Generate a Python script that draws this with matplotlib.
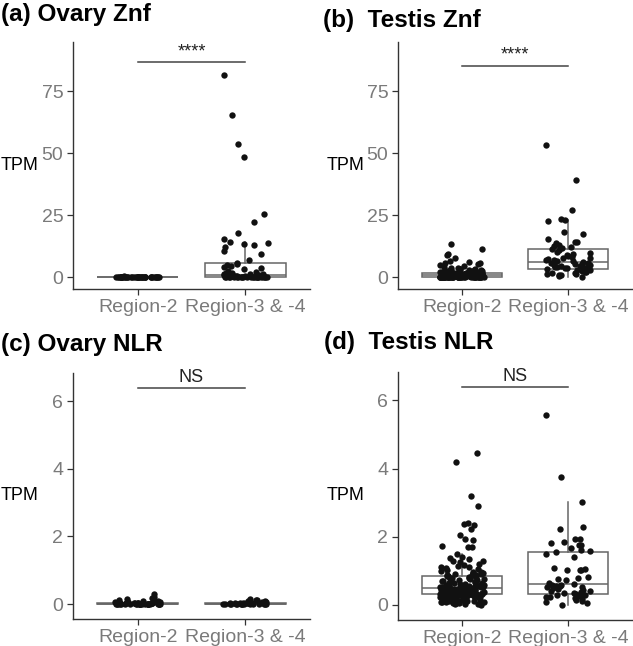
"""
Znf / NLR expression (TPM) in Region-2 vs Region-3 & -4, ovary and testis.
Boxplots with jittered points, 2x2 panel layout.
"""

import numpy as np
import matplotlib.pyplot as plt

plt.rcParams["font.family"] = ["Liberation Sans", "DejaVu Sans"]

# ----------------------------------------------------------------------
# Data (TPM values)
# ----------------------------------------------------------------------

GROUPS = ["Region-2", "Region-3 & -4"]

ovary_znf_r2 = [0.0, 0.0, 0.01, 0.02, 0.0, 0.05, 0.03, 0.0, 0.1, 0.02,
                0.0, 0.04, 0.08, 0.0, 0.01, 0.15, 0.0, 0.03, 0.06, 0.0,
                0.02, 0.12, 0.0, 0.05, 0.01, 0.0, 0.2, 0.03, 0.0, 0.07,
                0.0, 0.02, 0.09, 0.0, 0.04, 0.01, 0.0, 0.25, 0.03, 0.0]
ovary_znf_r34 = [81.3, 65.2, 53.8, 48.5, 25.5, 22.3, 17.6, 15.4, 14.0, 13.6,
                 13.2, 12.8, 12.3, 10.7, 9.2, 7.0, 5.5,
                 5.2, 4.8, 4.5, 4.2, 3.8, 3.2,
                 2.6, 2.1, 1.8, 1.5, 1.3, 1.2, 1.1, 1.0,
                 0.9, 0.8, 0.7, 0.6, 0.5, 0.45, 0.4, 0.35, 0.3, 0.25,
                 0.2, 0.18, 0.15, 0.12, 0.1, 0.08, 0.05,
                 0.04, 0.03, 0.03, 0.02, 0.02, 0.01, 0.01, 0.0,
                 0.0, 0.0, 0.0, 0.0, 0.0, 0.0, 0.0, 0.0]

testis_znf_r2 = [13.2, 11.2, 9.3, 9.1, 7.9, 6.6, 6.2, 5.8, 5.5, 5.1,
                 4.7, 4.4, 4.0, 3.8, 3.5, 3.3, 3.1, 2.9, 2.7, 2.6,
                 2.4, 2.3, 2.2, 2.05, 1.95, 1.9, 1.8, 1.72, 1.66, 1.61,
                 3.4, 3.0, 2.8, 2.5, 2.25, 2.1, 2.0, 1.85, 1.75, 1.62,
                 1.57, 1.53, 1.48, 1.44, 1.41, 1.36, 1.33, 1.29, 1.24, 1.21,
                 1.18, 1.13, 1.1, 1.06, 1.03, 0.99, 0.97, 0.94, 0.91, 0.88,
                 0.86, 0.83, 0.81, 0.79, 0.77, 0.76, 0.74, 0.72, 0.71, 0.7,
                 1.55, 1.45, 1.38, 1.27, 1.15, 1.04, 0.95, 0.87, 0.8, 0.73,
                 0.68, 0.66, 0.63, 0.61, 0.58, 0.56, 0.55, 0.52, 0.5, 0.48,
                 0.46, 0.44, 0.43, 0.41, 0.39, 0.37, 0.36, 0.34, 0.32, 0.31,
                 0.3, 0.28, 0.27, 0.26, 0.25, 0.24, 0.23, 0.22, 0.21, 0.2,
                 0.65, 0.6, 0.54, 0.47, 0.42, 0.38, 0.33, 0.29, 0.26, 0.22,
                 0.19, 0.18, 0.17, 0.16, 0.15, 0.14, 0.13, 0.12, 0.11, 0.1,
                 0.09, 0.08, 0.07, 0.06, 0.05, 0.05, 0.04, 0.04, 0.03, 0.03,
                 0.02, 0.02, 0.01, 0.01, 0.01, 0.0, 0.0, 0.0, 0.0, 0.0,
                 0.18, 0.15, 0.12, 0.1, 0.08, 0.06, 0.04, 0.02, 0.01, 0.0]
testis_znf_r34 = [53.2, 39.2, 27.0, 23.6, 23.2, 22.6, 18.0, 17.3, 15.2, 14.3,
                  14.1, 13.8, 12.9, 12.4, 12.2, 11.8,
                  11.2, 10.8, 10.3, 9.8, 9.5, 9.0, 8.6, 8.2, 7.9, 7.6,
                  7.3, 7.0, 6.8, 6.6, 6.4, 6.3,
                  6.0, 5.8, 5.6, 5.4, 5.2, 5.0, 4.8, 4.6, 4.4, 4.2,
                  4.0, 3.9, 3.8, 3.7, 3.6, 3.5,
                  3.3, 3.1, 2.9, 2.7, 2.5, 2.3, 2.1, 1.9, 1.7, 1.5,
                  1.3, 1.1, 0.9, 0.7, 0.5, 0.0]

ovary_nlr_r2 = [0.3, 0.22, 0.18, 0.15, 0.12, 0.1, 0.08, 0.07, 0.06, 0.05,
                0.05, 0.04, 0.04, 0.03, 0.03, 0.03, 0.02, 0.02, 0.02, 0.02,
                0.02, 0.01, 0.01, 0.01, 0.01, 0.01, 0.01, 0.01, 0.0, 0.0,
                0.0, 0.0, 0.0, 0.0, 0.0, 0.0, 0.0, 0.0, 0.0, 0.0,
                0.0, 0.0, 0.0, 0.0, 0.0]
ovary_nlr_r34 = [0.15, 0.13, 0.12, 0.1, 0.08, 0.06, 0.05, 0.04, 0.03, 0.03,
                 0.02, 0.02, 0.02, 0.02, 0.01, 0.01, 0.01, 0.01, 0.01, 0.01,
                 0.0, 0.0, 0.0, 0.0, 0.0, 0.0, 0.0, 0.0, 0.0, 0.0]

testis_nlr_r2 = [4.45, 4.2, 3.2, 2.9, 2.4, 2.38, 2.35, 2.22, 2.05, 1.92,
                 1.9, 1.72, 1.7, 1.69, 1.5, 1.42, 1.38, 1.35, 1.3, 1.28,
                 1.25, 1.2, 1.18, 1.15, 1.12, 1.1, 1.08, 1.05, 1.02, 1.0,
                 0.98, 0.96, 0.95, 0.93, 0.92, 0.91, 0.9, 0.89, 0.88, 0.87,
                 0.86, 0.85, 0.84, 0.83, 0.82, 0.8, 0.79, 0.78, 0.77, 0.75,
                 0.74, 0.73, 0.71, 0.7, 0.69, 0.68, 0.66, 0.65, 0.64, 0.63,
                 0.62, 0.61, 0.6, 0.59, 0.58, 0.57, 0.56, 0.56, 0.55, 0.54,
                 0.54, 0.53, 0.53, 0.52, 0.52, 0.51, 0.51, 0.5, 0.5, 0.5,
                 0.49, 0.49, 0.48, 0.48, 0.47, 0.47, 0.46, 0.46, 0.45, 0.45,
                 0.44, 0.44, 0.43, 0.43, 0.42, 0.42, 0.41, 0.41, 0.4, 0.4,
                 0.39, 0.39, 0.38, 0.38, 0.37, 0.37, 0.36, 0.36, 0.35, 0.35,
                 0.35, 0.34, 0.34, 0.34, 0.33, 0.33, 0.33, 0.33, 0.32, 0.32,
                 0.31, 0.3, 0.29, 0.28, 0.27, 0.26, 0.25, 0.24, 0.23, 0.22,
                 0.21, 0.2, 0.19, 0.18, 0.17, 0.16, 0.15, 0.14, 0.13, 0.12,
                 0.11, 0.1, 0.09, 0.08, 0.07, 0.06, 0.05, 0.04, 0.03, 0.02,
                 0.25, 0.22, 0.18, 0.15, 0.12, 0.28, 0.3, 0.2, 0.1, 0.0]
testis_nlr_r34 = [5.57, 3.75, 3.02, 2.3, 2.24, 1.94, 1.92, 1.86, 1.83, 1.76,
                  1.75, 1.67, 1.6, 1.58,
                  1.55, 1.5, 1.42, 1.08, 1.05, 1.04, 1.03, 1.02, 0.82, 0.8,
                  0.76, 0.72, 0.65, 0.62,
                  0.6, 0.58, 0.56, 0.55, 0.54, 0.52, 0.5, 0.48, 0.45, 0.42,
                  0.4, 0.38, 0.36, 0.34,
                  0.32, 0.3, 0.29, 0.28, 0.26, 0.24, 0.22, 0.2, 0.18, 0.15,
                  0.12, 0.08, 0.05, 0.0]

# ----------------------------------------------------------------------
# Styling
# ----------------------------------------------------------------------

W, H = 633, 646
BOX_COL = "#666666"
AXIS_COL = "#333333"
TICK_LABEL_COL = "#7a7a7a"
POINT_COL = "#111111"


def px_axes(fig, left, right, top, bottom):
    return fig.add_axes([left / W, 1 - bottom / H,
                         (right - left) / W, (bottom - top) / H])


def draw_panel(ax, r2, r34, ylim, yticks, bracket_y, sig, seed):
    ax.boxplot([r2, r34], positions=[1, 2], widths=0.75,
               showfliers=False, showcaps=False, patch_artist=True,
               boxprops=dict(facecolor="white", edgecolor=BOX_COL, linewidth=1.1),
               medianprops=dict(color=BOX_COL, linewidth=1.1),
               whiskerprops=dict(color=BOX_COL, linewidth=1.1),
               zorder=2)

    # horizontal jitter only, like geom_jitter(height = 0)
    rng = np.random.default_rng(seed)
    for pos, vals in zip([1, 2], [r2, r34]):
        vals = np.asarray(vals)
        xs = pos + rng.uniform(-0.21, 0.21, len(vals))
        ax.scatter(xs, vals, s=21, color=POINT_COL, linewidths=0, zorder=3)

    ax.plot([1, 2], [bracket_y, bracket_y], color="#444444", linewidth=1.1,
            zorder=4)
    ax.annotate(sig, xy=(1.5, bracket_y), xytext=(0, 1.5),
                textcoords="offset points", ha="center", va="bottom",
                fontsize=13, color="#222222")

    ax.set_xlim(0.4, 2.6)
    ax.set_ylim(*ylim)
    ax.set_xticks([1, 2])
    ax.set_xticklabels(GROUPS)
    ax.set_yticks(yticks)
    ax.spines["top"].set_visible(False)
    ax.spines["right"].set_visible(False)
    for s in ("left", "bottom"):
        ax.spines[s].set_color(AXIS_COL)
        ax.spines[s].set_linewidth(1)
    ax.tick_params(direction="out", length=4, width=0.9, color=AXIS_COL,
                   labelcolor=TICK_LABEL_COL, labelsize=14, pad=3)
    ax.set_ylabel("TPM", rotation=0, fontsize=13, color="black",
                  ha="center", va="center")
    ax.yaxis.set_label_coords(-0.225, 0.5)


fig = plt.figure(figsize=(W / 100, H / 100), dpi=100)

ax_a = px_axes(fig, 73, 310, 42, 289)
ax_b = px_axes(fig, 398, 632, 42, 289)
ax_c = px_axes(fig, 73, 310, 373, 619)
ax_d = px_axes(fig, 398, 632, 372, 620)

ZNF_LIM = (-4.8, 94.8)
NLR_LIM = (-0.44, 6.83)

draw_panel(ax_a, ovary_znf_r2, ovary_znf_r34, ZNF_LIM, [0, 25, 50, 75],
           86.7, "****", 11)
draw_panel(ax_b, testis_znf_r2, testis_znf_r34, ZNF_LIM, [0, 25, 50, 75],
           85.1, "****", 12)
draw_panel(ax_c, ovary_nlr_r2, ovary_nlr_r34, NLR_LIM, [0, 2, 4, 6],
           6.38, "NS", 13)
draw_panel(ax_d, testis_nlr_r2, testis_nlr_r34, NLR_LIM, [0, 2, 4, 6],
           6.39, "NS", 14)

TITLE_KW = dict(fontsize=17.5, fontweight="bold", ha="left", va="center")
fig.text(1 / W, 1 - 15 / H, "(a) Ovary Znf", **TITLE_KW)
fig.text(323 / W, 1 - 21 / H, "(b)  Testis Znf", **TITLE_KW)
fig.text(1 / W, 1 - 344 / H, "(c) Ovary NLR", **TITLE_KW)
fig.text(324 / W, 1 - 342 / H, "(d)  Testis NLR", **TITLE_KW)

fig.savefig("out.png", dpi=100)
